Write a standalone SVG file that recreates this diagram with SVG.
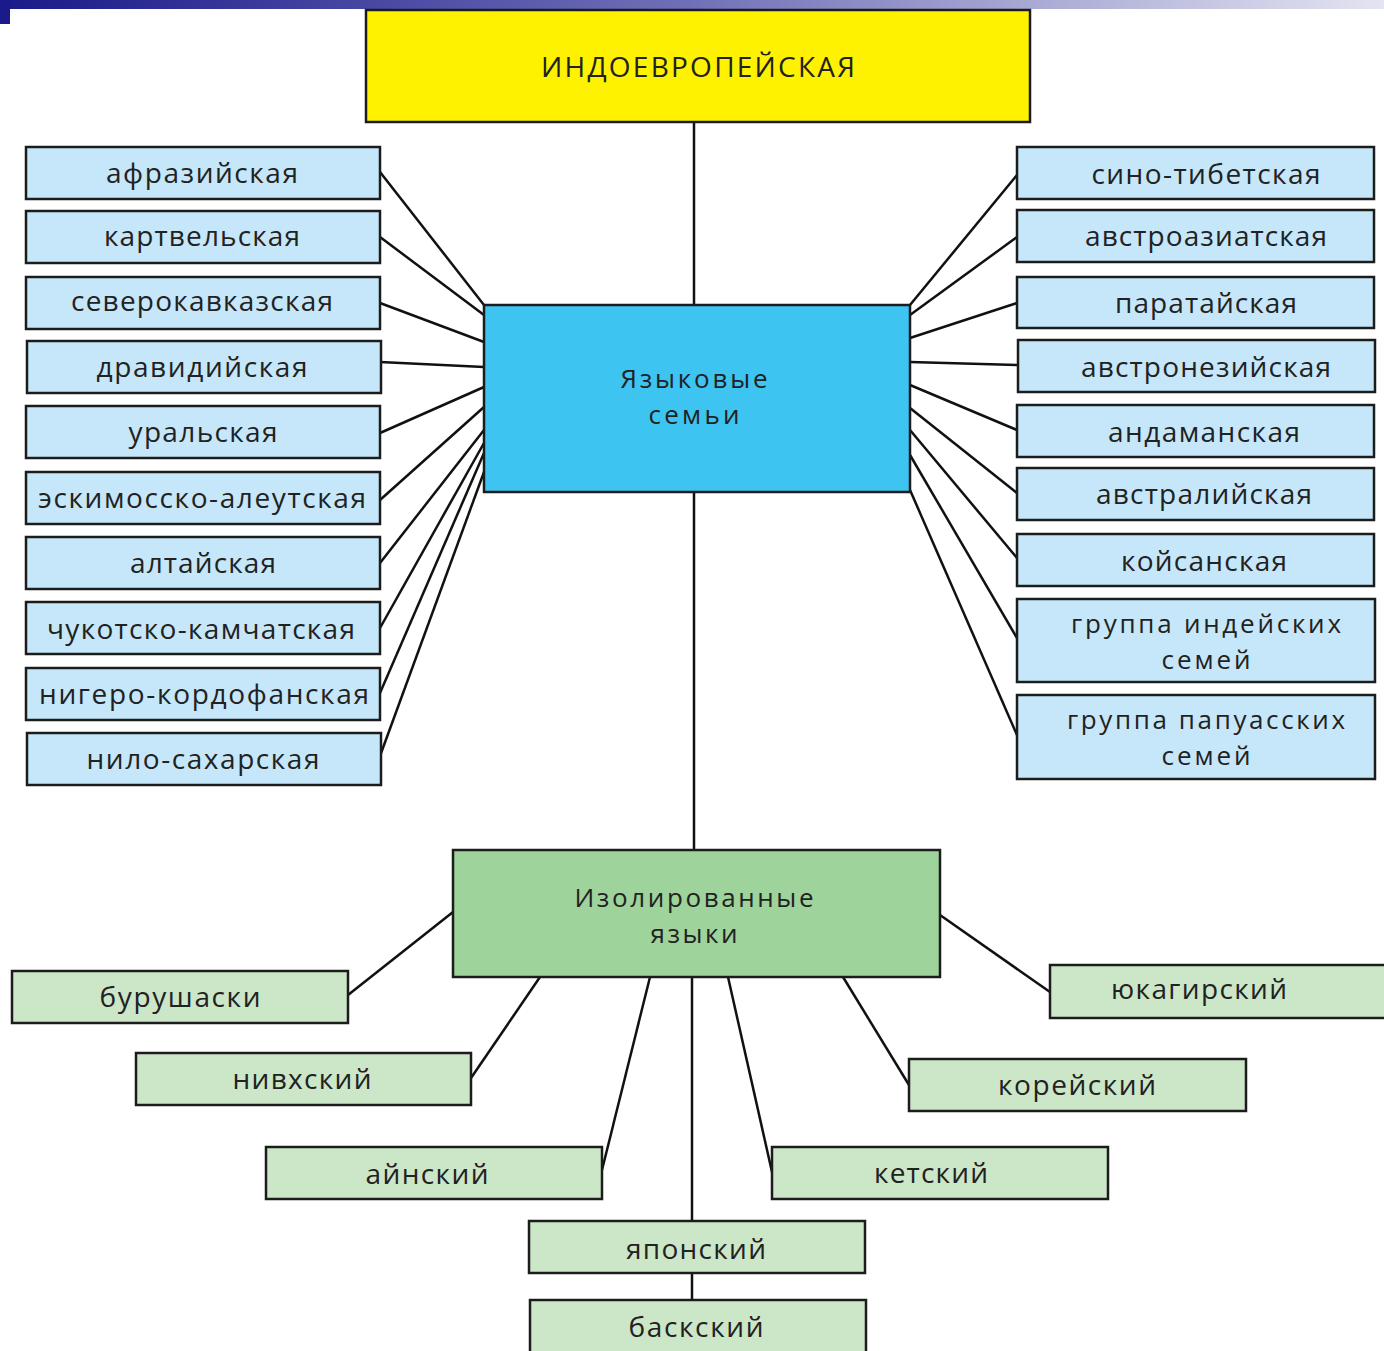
<svg xmlns="http://www.w3.org/2000/svg" width="1384" height="1351" viewBox="0 0 1384 1351">
<defs>
<linearGradient id="bar" x1="0" y1="0" x2="1" y2="0">
<stop offset="0" stop-color="#1a1a8a"/>
<stop offset="0.5" stop-color="#7070b8"/>
<stop offset="1" stop-color="#e4e4f2"/>
</linearGradient>
</defs>
<style>
.box{stroke:#1c1c1c;stroke-width:2.5}
.lb{fill:#c6e7f9}
.mb{fill:#3ec4f0}
.yl{fill:#fff200}
.dg{fill:#9ed39b}
.lg{fill:#cce6c8}
text{font-family:"Open Sans","Noto Sans","DejaVu Sans",sans-serif;font-size:28px;fill:#222;text-anchor:middle;dominant-baseline:central}
text.two{font-size:26px}
.cn line{stroke:#111;stroke-width:2.5}
</style>
<rect x="0" y="0" width="1384" height="9" fill="url(#bar)"/>
<rect x="0" y="0" width="10" height="24" fill="#1a1a8a"/>
<g class="cn">
<line x1="694" y1="122" x2="694" y2="305"/>
<line x1="694" y1="492" x2="694" y2="850"/>
<line x1="380" y1="172" x2="484" y2="305"/>
<line x1="380" y1="237" x2="484" y2="315"/>
<line x1="380" y1="303" x2="484" y2="342"/>
<line x1="380" y1="362" x2="484" y2="367"/>
<line x1="380" y1="433" x2="484" y2="387"/>
<line x1="380" y1="500" x2="484" y2="407"/>
<line x1="380" y1="563" x2="484" y2="430"/>
<line x1="380" y1="628" x2="484" y2="443"/>
<line x1="380" y1="693" x2="484" y2="453"/>
<line x1="380" y1="756" x2="484" y2="472"/>
<line x1="910" y1="305" x2="1017" y2="175"/>
<line x1="910" y1="315" x2="1017" y2="237"/>
<line x1="910" y1="338" x2="1017" y2="303"/>
<line x1="910" y1="362" x2="1017" y2="365"/>
<line x1="910" y1="385" x2="1017" y2="430"/>
<line x1="910" y1="408" x2="1017" y2="493"/>
<line x1="910" y1="430" x2="1017" y2="558"/>
<line x1="910" y1="455" x2="1017" y2="638"/>
<line x1="910" y1="490" x2="1017" y2="735"/>
<line x1="348" y1="995" x2="453" y2="912"/>
<line x1="471" y1="1078" x2="540" y2="977"/>
<line x1="602" y1="1170" x2="650" y2="977"/>
<line x1="692" y1="977" x2="692" y2="1221"/>
<line x1="692" y1="1273" x2="692" y2="1300"/>
<line x1="772" y1="1172" x2="728" y2="977"/>
<line x1="909" y1="1085" x2="843" y2="977"/>
<line x1="1050" y1="992" x2="940" y2="915"/>
</g>
<g id="indo"><rect class="box yl" x="366" y="10" width="664" height="112"/><text x="698" y="66" textLength="314" lengthAdjust="spacing">ИНДОЕВРОПЕЙСКАЯ</text></g>
<g id="families"><rect class="box mb" x="484" y="305" width="426" height="187"/><text class="two"><tspan x="694" y="377.5" textLength="147" lengthAdjust="spacing">Языковые</tspan><tspan x="694" y="413.5" textLength="91" lengthAdjust="spacing">семьи</tspan></text></g>
<g id="afraz"><rect class="box lb" x="26" y="147" width="354" height="52"/><text x="202" y="172" textLength="192" lengthAdjust="spacing">афразийская</text></g>
<g id="kartv"><rect class="box lb" x="26" y="211" width="354" height="52"/><text x="202" y="235" textLength="196" lengthAdjust="spacing">картвельская</text></g>
<g id="sevkav"><rect class="box lb" x="26" y="277" width="354" height="52"/><text x="202" y="300" textLength="262" lengthAdjust="spacing">северокавказская</text></g>
<g id="dravid"><rect class="box lb" x="27" y="341" width="354" height="52"/><text x="202" y="366" textLength="211" lengthAdjust="spacing">дравидийская</text></g>
<g id="ural"><rect class="box lb" x="26" y="406" width="354" height="52"/><text x="203" y="431" textLength="149" lengthAdjust="spacing">уральская</text></g>
<g id="eskimo"><rect class="box lb" x="26" y="472" width="354" height="52"/><text x="202" y="497" textLength="328" lengthAdjust="spacing">эскимосско-алеутская</text></g>
<g id="altai"><rect class="box lb" x="26" y="537" width="354" height="52"/><text x="203" y="562" textLength="146" lengthAdjust="spacing">алтайская</text></g>
<g id="chukot"><rect class="box lb" x="26" y="602" width="354" height="52"/><text x="201" y="628" textLength="308" lengthAdjust="spacing">чукотско-камчатская</text></g>
<g id="niger"><rect class="box lb" x="26" y="668" width="354" height="52"/><text x="204" y="693" textLength="330" lengthAdjust="spacing">нигеро-кордофанская</text></g>
<g id="nilo"><rect class="box lb" x="27" y="733" width="354" height="52"/><text x="203" y="758" textLength="233" lengthAdjust="spacing">нило-сахарская</text></g>
<g id="sino"><rect class="box lb" x="1017" y="147" width="357" height="52"/><text x="1206" y="173" textLength="229" lengthAdjust="spacing">сино-тибетская</text></g>
<g id="austroas"><rect class="box lb" x="1017" y="210" width="357" height="52"/><text x="1206" y="235" textLength="242" lengthAdjust="spacing">австроазиатская</text></g>
<g id="paratai"><rect class="box lb" x="1017" y="277" width="357" height="51"/><text x="1206" y="302" textLength="182" lengthAdjust="spacing">паратайская</text></g>
<g id="austron"><rect class="box lb" x="1018" y="340" width="357" height="52"/><text x="1206" y="366" textLength="250" lengthAdjust="spacing">австронезийская</text></g>
<g id="andaman"><rect class="box lb" x="1017" y="405" width="357" height="52"/><text x="1204" y="431" textLength="192" lengthAdjust="spacing">андаманская</text></g>
<g id="austral"><rect class="box lb" x="1017" y="468" width="357" height="52"/><text x="1204" y="493" textLength="216" lengthAdjust="spacing">австралийская</text></g>
<g id="khoisan"><rect class="box lb" x="1017" y="534" width="357" height="52"/><text x="1204" y="560" textLength="166" lengthAdjust="spacing">койсанская</text></g>
<g id="indian"><rect class="box lb" x="1017" y="599" width="358" height="83"/><text class="two"><tspan x="1206" y="622.5" textLength="270" lengthAdjust="spacing">группа индейских</tspan><tspan x="1206" y="658.5" textLength="89" lengthAdjust="spacing">семей</tspan></text></g>
<g id="papuan"><rect class="box lb" x="1017" y="695" width="358" height="84"/><text class="two"><tspan x="1206" y="718.5" textLength="278" lengthAdjust="spacing">группа папуасских</tspan><tspan x="1206" y="754.5" textLength="89" lengthAdjust="spacing">семей</tspan></text></g>
<g id="isolated"><rect class="box dg" x="453" y="850" width="487" height="127"/><text class="two"><tspan x="694" y="897" textLength="239" lengthAdjust="spacing">Изолированные</tspan><tspan x="694" y="933" textLength="87" lengthAdjust="spacing">языки</tspan></text></g>
<g id="burush"><rect class="box lg" x="12" y="971" width="336" height="52"/><text x="180" y="996" textLength="161" lengthAdjust="spacing">бурушаски</text></g>
<g id="nivkh"><rect class="box lg" x="136" y="1053" width="335" height="52"/><text x="302" y="1078" textLength="139" lengthAdjust="spacing">нивхский</text></g>
<g id="ainu"><rect class="box lg" x="266" y="1147" width="336" height="52"/><text x="427" y="1173" textLength="123" lengthAdjust="spacing">айнский</text></g>
<g id="japanese"><rect class="box lg" x="529" y="1221" width="336" height="52"/><text x="696" y="1248" textLength="140" lengthAdjust="spacing">японский</text></g>
<g id="basque"><rect class="box lg" x="530" y="1300" width="336" height="56"/><text x="696" y="1326" textLength="135" lengthAdjust="spacing">баскский</text></g>
<g id="ket"><rect class="box lg" x="772" y="1147" width="336" height="52"/><text x="931" y="1172" textLength="114" lengthAdjust="spacing">кетский</text></g>
<g id="korean"><rect class="box lg" x="909" y="1059" width="337" height="52"/><text x="1077" y="1084" textLength="158" lengthAdjust="spacing">корейский</text></g>
<g id="yukagir"><rect class="box lg" x="1050" y="965" width="340" height="53"/><text x="1199" y="988" textLength="176" lengthAdjust="spacing">юкагирский</text></g>
</svg>
